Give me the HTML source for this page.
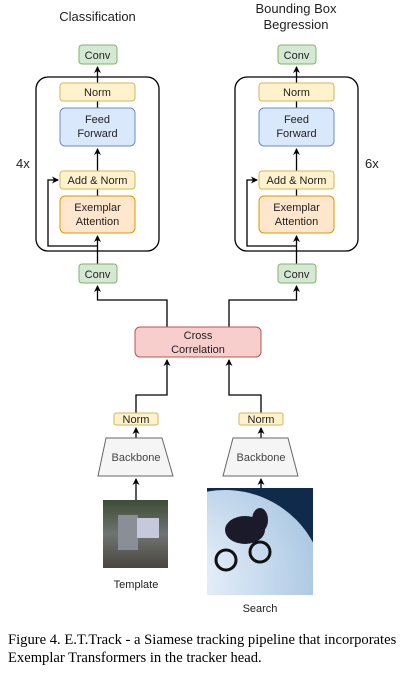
<!DOCTYPE html>
<html><head><style>
body{margin:0;background:#fff;width:418px;height:685px;overflow:hidden}
svg text{font-family:"Liberation Sans",Arial,sans-serif}
.cap{position:absolute;left:8px;top:631px;font-family:"Liberation Serif",serif;font-size:14.6px;line-height:18px;color:#000;width:410px;white-space:nowrap}
</style></head><body>
<svg width="418" height="685" style="position:absolute;left:0;top:0">
<defs>
<marker id="a" markerWidth="8" markerHeight="8" refX="6" refY="4" orient="auto" markerUnits="userSpaceOnUse"><path d="M0,0.5 L7,4 L0,7.5 L2,4z" fill="#000"/></marker>
<g id="col">
<rect x="36" y="77" width="123" height="174" rx="12" fill="none" stroke="#000" stroke-width="1.3"/>
<path d="M97.5,283 V267" stroke="#000" stroke-width="1.3" fill="none" marker-end="url(#a)"/>
<path d="M97.5,264 V236" stroke="#000" stroke-width="1.3" fill="none" marker-end="url(#a)"/>
<path d="M97.5,246 H48 V180 H58" stroke="#000" stroke-width="1.3" fill="none" marker-end="url(#a)"/>
<path d="M97.5,196 V189" stroke="#000" stroke-width="1.3" fill="none"/>
<path d="M97.5,171 V149" stroke="#000" stroke-width="1.3" fill="none" marker-end="url(#a)"/>
<path d="M97.5,108 V101" stroke="#000" stroke-width="1.3" fill="none"/>
<path d="M97.5,83 V67" stroke="#000" stroke-width="1.3" fill="none" marker-end="url(#a)"/>
<rect x="79" y="45" width="38" height="19" rx="3" fill="#d5e8d4" stroke="#82b366"/>
<text x="97.5" y="59" font-size="11" text-anchor="middle" fill="#222">Conv</text>
<rect x="60" y="83" width="75" height="18" rx="3" fill="#fff2cc" stroke="#d6b656"/>
<text x="97.5" y="96" font-size="11" text-anchor="middle" fill="#222">Norm</text>
<rect x="60" y="108" width="75" height="38" rx="5" fill="#dae8fc" stroke="#6c8ebf"/>
<text x="97.5" y="123" font-size="11" text-anchor="middle" fill="#222">Feed</text>
<text x="97.5" y="137" font-size="11" text-anchor="middle" fill="#222">Forward</text>
<rect x="60" y="171" width="75" height="18" rx="3" fill="#fff2cc" stroke="#d6b656"/>
<text x="97.5" y="184" font-size="11" text-anchor="middle" fill="#222">Add &amp; Norm</text>
<rect x="60" y="196" width="75" height="37" rx="5" fill="#ffe6cc" stroke="#d79b00"/>
<text x="97.5" y="211" font-size="11" text-anchor="middle" fill="#222">Exemplar</text>
<text x="97.5" y="225" font-size="11" text-anchor="middle" fill="#222">Attention</text>
<rect x="79" y="264" width="38" height="19" rx="3" fill="#d5e8d4" stroke="#82b366"/>
<text x="97.5" y="278" font-size="11" text-anchor="middle" fill="#222">Conv</text>
</g>
<radialGradient id="moon" cx="0.3" cy="0.45" r="0.7"><stop offset="0" stop-color="#eef5fc"/><stop offset="1" stop-color="#a9c6e2"/></radialGradient>
<linearGradient id="tp" x1="0" y1="0" x2="0" y2="1"><stop offset="0" stop-color="#3d4d35"/><stop offset="0.5" stop-color="#6f7470"/><stop offset="1" stop-color="#4a4540"/></linearGradient>
</defs>
<use href="#col"/>
<use href="#col" transform="translate(199,0)"/>
<text x="97.5" y="21" font-size="13" text-anchor="middle" fill="#222">Classification</text>
<text x="296" y="13" font-size="13" text-anchor="middle" fill="#222">Bounding Box</text>
<text x="296" y="29" font-size="13" text-anchor="middle" fill="#222">Begression</text>
<text x="16" y="168" font-size="13" fill="#222">4x</text>
<text x="365" y="168" font-size="13" fill="#222">6x</text>
<path d="M167,327 V300 H97.5 V286" stroke="#000" stroke-width="1.3" fill="none" marker-end="url(#a)"/>
<path d="M229,327 V300 H296.5 V286" stroke="#000" stroke-width="1.3" fill="none" marker-end="url(#a)"/>
<path d="M136,413 V395 H167 V360" stroke="#000" stroke-width="1.3" fill="none" marker-end="url(#a)"/>
<path d="M261,413 V395 H229 V360" stroke="#000" stroke-width="1.3" fill="none" marker-end="url(#a)"/>
<path d="M136,438 V428" stroke="#000" stroke-width="1.3" fill="none" marker-end="url(#a)"/>
<path d="M261,438 V428" stroke="#000" stroke-width="1.3" fill="none" marker-end="url(#a)"/>
<path d="M136,500 V479" stroke="#000" stroke-width="1.3" fill="none" marker-end="url(#a)"/>
<path d="M261,488 V479" stroke="#000" stroke-width="1.3" fill="none" marker-end="url(#a)"/>
<rect x="135" y="327" width="126" height="30" rx="5" fill="#f8cecc" stroke="#b85450"/>
<text x="198" y="339" font-size="11" text-anchor="middle" fill="#222">Cross</text>
<text x="198" y="353" font-size="11" text-anchor="middle" fill="#222">Correlation</text>
<rect x="114" y="413" width="44" height="12" rx="2" fill="#fff2cc" stroke="#d6b656"/>
<text x="136" y="423" font-size="11" text-anchor="middle" fill="#222">Norm</text>
<rect x="239" y="413" width="44" height="12" rx="2" fill="#fff2cc" stroke="#d6b656"/>
<text x="261" y="423" font-size="11" text-anchor="middle" fill="#222">Norm</text>
<path d="M106,438 H162 L173,476 H98z" fill="#f5f5f5" stroke="#666"/>
<text x="136" y="461" font-size="11" text-anchor="middle" fill="#444">Backbone</text>
<path d="M233,438 H288 L298,476 H223z" fill="#f5f5f5" stroke="#666"/>
<text x="261" y="461" font-size="11" text-anchor="middle" fill="#444">Backbone</text>
<rect x="103" y="500" width="65" height="68" fill="url(#tp)"/>
<rect x="118" y="515" width="20" height="35" fill="#8a8e96"/>
<rect x="137" y="518" width="22" height="20" fill="#c8c8dc"/>
<text x="136" y="588" font-size="11" text-anchor="middle" fill="#222">Template</text>
<clipPath id="sc"><rect x="207" y="488" width="106" height="107"/></clipPath>
<g clip-path="url(#sc)">
<rect x="207" y="488" width="106" height="107" fill="#0f2a4a"/>
<circle cx="225" cy="590" r="100" fill="url(#moon)"/>
<ellipse cx="245" cy="530" rx="20" ry="14" fill="#1a1a2a"/>
<ellipse cx="260" cy="520" rx="8" ry="12" fill="#1a1a2a"/>
<circle cx="226" cy="560" r="10" fill="none" stroke="#111" stroke-width="3"/>
<circle cx="260" cy="552" r="10" fill="none" stroke="#111" stroke-width="3"/>
</g>
<text x="260" y="612" font-size="11" text-anchor="middle" fill="#222">Search</text>
</svg>
<div class="cap">Figure 4. E.T.Track - a Siamese tracking pipeline that incorporates<br>Exemplar Transformers in the tracker head.</div>
</body></html>
